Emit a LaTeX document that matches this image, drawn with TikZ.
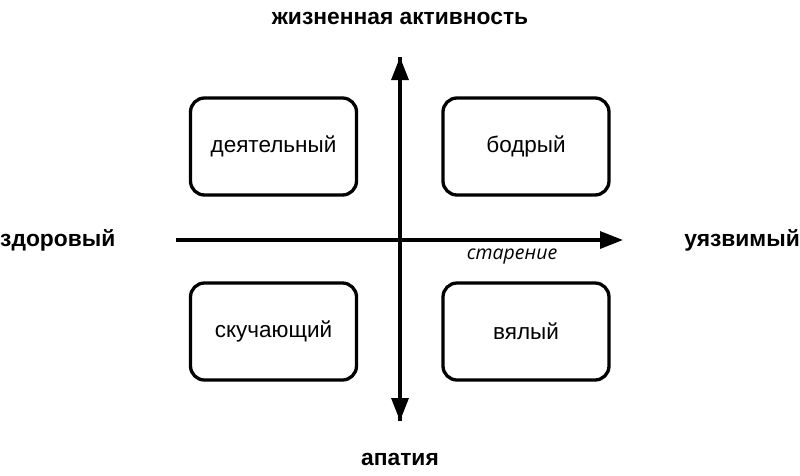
\documentclass[tikz,border=0pt]{standalone}
\usepackage{fontspec}
\setmainfont{Liberation Sans}
\newfontfamily\italfont{Open Sans}
\usetikzlibrary{arrows.meta}
\begin{document}
\begin{tikzpicture}[x=1pt,y=-1pt,
  qbox/.style={draw,line width=3.3pt,rounded corners=14pt,minimum width=166pt,minimum height=97pt,font=\fontsize{22.5}{26}\selectfont,inner sep=0pt},
  axis/.style={line width=3.3pt,-{Triangle[length=23pt,width=17pt]}},
  pole/.style={font=\bfseries\fontsize{22.8}{26}\selectfont,inner sep=0pt}]
\useasboundingbox[fill=white] (0,0) rectangle (800,475);
\node[qbox] (dt) at (273.5,146.5) {деятельный};
\node[qbox] (bd) at (526,146.5) {бодрый};
\node[qbox] (sk) at (273.5,331.5) {скучающий};
\node[qbox] (vl) at (526,331.5) {вялый};
\coordinate (vtop) at (400,57);
\coordinate (vbot) at (400,421);
\coordinate (hl) at (176,240);
\coordinate (hr) at (623,240);
\draw[axis] (vbot) -- (vtop);
\draw[axis] (vtop) -- (vbot);
\draw[axis] (hl) -- (hr);
\node[pole] (zh) at (400,18) {жизненная активность};
\node[pole] (ap) at (400,459) {апатия};
\node[pole,anchor=west] (zd) at (0,240) {здоровый};
\node[pole,anchor=east] (uz) at (800,240) {уязвимый};
\node[font=\italfont\itshape\fontsize{19.5}{22}\selectfont,inner sep=0pt] (st) at (512,257) {старение};
\end{tikzpicture}
\end{document}
